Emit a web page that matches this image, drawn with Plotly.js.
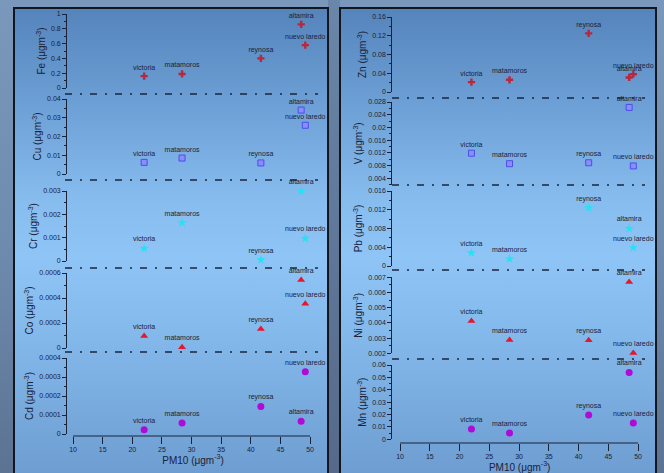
<!DOCTYPE html>
<html>
<head>
<meta charset="utf-8">
<script src="https://cdn.plot.ly/plotly-3.0.1.min.js"></script>
<style>
  html, body { margin: 0; padding: 0; }
  #wrap { position: relative; width: 664px; height: 473px; overflow: hidden;
    background: linear-gradient(to bottom, #7a98bb 0%, #6e8cb0 50%, #5c7392 100%); }
  .panel { position: absolute; top: 7px; height: 480px; box-sizing: border-box;
    border: 2px solid #12161f;
    background: linear-gradient(to bottom, #5584bb 0%, #6a9dd3 18%, #87bcef 40%, #8fc4f6 52%, #84b9ec 68%, #6c9bcf 100%); }
  #gap { position: absolute; left: 328px; top: 0; width: 12px; height: 473px;
    background: linear-gradient(to bottom, #6a86a8, #56698a); }
  #plot { position: absolute; left: 0; top: 0; width: 664px; height: 473px; }
</style>
</head>
<body>
<div id="wrap">
  <div id="gap"></div>
  <div class="panel" style="left:13px; width:316px;"></div>
  <div class="panel" style="left:339px; width:318px;"></div>
  <div id="plot"></div>
</div>
<script>
// ---- data ----
const sites = ['victoria', 'matamoros', 'reynosa', 'altamira', 'nuevo laredo'];
const pm10  = [22.0, 28.4, 41.7, 48.5, 49.2];

const Fe = [0.16, 0.19, 0.40, 0.86, 0.58];
const Cu = [0.0062, 0.0085, 0.0059, 0.0341, 0.026];
const Cr = [0.00054, 0.00164, 0.00005, 0.00299, 0.00097];
const Co = [0.000096, 0.000006, 0.000152, 0.000544, 0.000355];
const Cd = [0.000023, 0.000058, 0.000145, 0.000067, 0.000328];

const Zn = [0.021, 0.026, 0.125, 0.031, 0.038];
const V  = [0.0119, 0.0086, 0.0089, 0.0263, 0.0079];
const Pb = [0.0028, 0.0015, 0.0124, 0.0080, 0.0039];
const Ni = [0.00413, 0.00288, 0.00286, 0.00669, 0.00202];
const Mn = [0.0083, 0.0051, 0.0196, 0.054, 0.0132];

const xTitle = 'PM10 (μgm<sup>-3</sup>)';

// ---- styles ----
const ink = '#1a2238';
const markerStyles = {
  cross:    {symbol: 'cross', size: 6, color: '#b8283c'},
  square:   {symbol: 'square', size: 6, color: '#8a8cff', line: {color: '#4b4fe8', width: 1}},
  star:     {symbol: 'star', size: 7, color: '#22e2f4'},
  triangle: {symbol: 'triangle-up', size: 7, color: '#e8152e'},
  circle:   {symbol: 'circle', size: 7, color: '#b00ad8'}
};

const panels = [
  {xa: 'x', xdomain: [0.1011, 0.4803], xrange: [9, 51.5], xpos: 1 - 436/473,
   rows: [
     {name: 'Fe', y: Fe, m: 'cross',    range: [0, 1],      dtick: 0.2,    minor: 0.1,     dom: [88, 14]},
     {name: 'Cu', y: Cu, m: 'square',   range: [0, 0.04],   dtick: 0.01,   minor: 0.005,   dom: [174, 99]},
     {name: 'Cr', y: Cr, m: 'star',     range: [0, 0.003],  dtick: 0.001,  minor: 0.0005,  dom: [261, 191]},
     {name: 'Co', y: Co, m: 'triangle', range: [0, 0.0006], dtick: 0.0002, minor: 0.0001,  dom: [348, 273]},
     {name: 'Cd', y: Cd, m: 'circle',   range: [0, 0.0004], dtick: 0.0001, minor: 0.00005, dom: [434, 358]}
   ],
   seps: [94, 180, 268, 352], sepx: [65, 318]},
  {xa: 'x2', xdomain: [0.5908, 0.9744], xrange: [8.7, 51.5], xpos: 1 - 443/473,
   rows: [
     {name: 'Zn', y: Zn, m: 'cross',    range: [0, 0.16],      dtick: 0.04,  minor: 0.02,   dom: [92, 17]},
     {name: 'V',  y: V,  m: 'square',   range: [0.002, 0.028], dtick: 0.004, minor: 0.002,  dom: [184.7, 102]},
     {name: 'Pb', y: Pb, m: 'star',     range: [0, 0.016],     dtick: 0.004, minor: 0.002,  dom: [266, 191]},
     {name: 'Ni', y: Ni, m: 'triangle', range: [0.002, 0.007], dtick: 0.001, minor: 0.0005, dom: [353.3, 277.3]},
     {name: 'Mn', y: Mn, m: 'circle',   range: [0, 0.06],      dtick: 0.01,  minor: 0.005,  dom: [439.3, 365]}
   ],
   seps: [98, 185, 270, 359], sepx: [392, 645]}
];

const H = 473, W = 664;
const traces = [];
const layout = {
  width: W, height: H, autosize: false,
  margin: {l: 0, r: 0, t: 0, b: 0},
  paper_bgcolor: 'rgba(0,0,0,0)', plot_bgcolor: 'rgba(0,0,0,0)',
  showlegend: false,
  font: {family: 'Liberation Sans, Arial, sans-serif', color: ink, size: 7},
  shapes: []
};

let yi = 1;
panels.forEach(p => {
  const xkey = p.xa === 'x' ? 'xaxis' : 'xaxis2';
  layout[xkey] = {
    domain: p.xdomain, range: p.xrange, anchor: 'free', position: p.xpos,
    showgrid: false, zeroline: false, showline: false,
    ticks: 'outside', ticklen: 7, tickwidth: 1, tickcolor: ink,
    tick0: 10, dtick: 5, tickfont: {size: 7, color: ink},
    title: {text: xTitle, font: {size: 10, color: ink}, standoff: 3}
  };
  // x axis line spanning 10..50
  layout.shapes.push({type: 'line', xref: p.xa, yref: 'paper', x0: 10, x1: 50,
    y0: p.xpos, y1: p.xpos, line: {color: ink, width: 1.2}});
  p.rows.forEach(r => {
    const ykey = 'yaxis' + (yi === 1 ? '' : yi);
    const yref = 'y' + (yi === 1 ? '' : yi);
    layout[ykey] = {
      domain: [1 - r.dom[0]/H, 1 - r.dom[1]/H], range: r.range,
      anchor: p.xa, showgrid: false, zeroline: false,
      showline: true, linecolor: ink, linewidth: 1,
      ticks: 'outside', ticklen: 4, tickwidth: 1, tickcolor: ink,
      tick0: 0, dtick: r.dtick, exponentformat: 'none',
      minor: {ticks: 'outside', ticklen: 2.5, dtick: r.minor, tick0: 0, tickcolor: ink, showgrid: false},
      tickfont: {size: 7, color: ink},
      title: {text: r.name + ' (μgm<sup>-3</sup>)', font: {size: 10, color: ink}, standoff: 3}
    };
    traces.push({
      type: 'scatter', mode: 'markers+text', x: pm10, y: r.y, text: sites,
      xaxis: p.xa, yaxis: yref, cliponaxis: false,
      textposition: 'top center', textfont: {size: 7, color: ink},
      marker: markerStyles[r.m], hoverinfo: 'skip'
    });
    yi++;
  });
  p.seps.forEach(s => {
    layout.shapes.push({type: 'line', xref: 'paper', yref: 'paper',
      x0: p.sepx[0]/W, x1: p.sepx[1]/W, y0: 1 - s/H, y1: 1 - s/H,
      line: {color: '#1b263d', width: 1.5, dash: '7px,8px,2px,8px'}});
  });
});

Plotly.newPlot('plot', traces, layout, {displayModeBar: false, staticPlot: true});
</script>
</body>
</html>
